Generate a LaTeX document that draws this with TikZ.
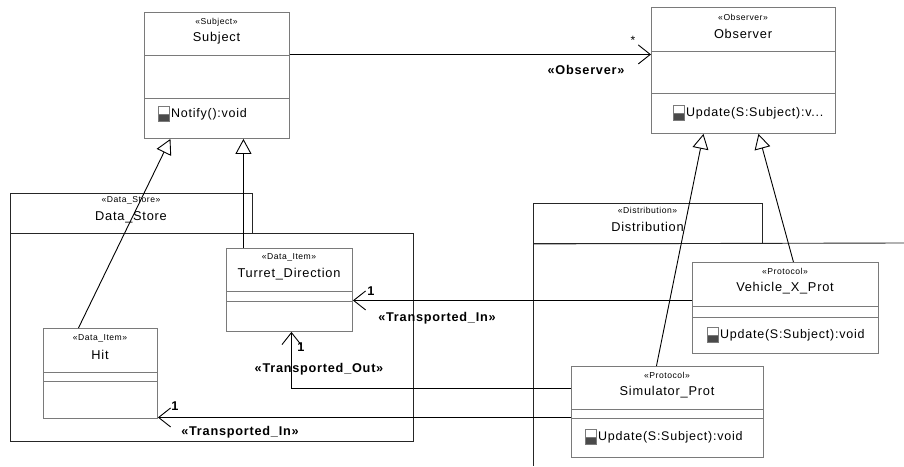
\documentclass[tikz,border=0pt]{standalone}
\usepackage{fontspec}
\setmainfont{Liberation Sans}
\newfontfamily\umlfont[LetterSpace=6]{Liberation Sans}
\usetikzlibrary{arrows.meta}
\definecolor{boxgray}{HTML}{7A7A7A}
\definecolor{icondark}{HTML}{4A4A4A}
\tikzset{
  cls/.style={draw=boxgray, line width=0.9pt, fill=white, rectangle, inner sep=0pt, anchor=north west},
  pkg/.style={draw=black!85, line width=0.9pt, rectangle, inner sep=0pt, anchor=north west},
  divider/.style={draw=boxgray, line width=0.9pt},
  stereo/.style={inner sep=0pt, font=\umlfont\fontsize{8.6}{10}\selectfont},
  cname/.style={inner sep=0pt, font=\umlfont\fontsize{12.8}{14}\selectfont},
  optext/.style={inner sep=0pt, anchor=west, font=\umlfont\fontsize{12.5}{14}\selectfont},
  lbl/.style={inner sep=0pt, font=\umlfont\bfseries\fontsize{12.7}{14}\selectfont},
  assoc/.style={draw=black, line width=0.9pt, -{Straight Barb[length=12pt,width=19pt,line width=0.9pt]}},
  gen/.style={draw=black, line width=0.9pt, -{Triangle[open,length=15pt,width=16pt,line width=0.9pt,fill=white]}},
  opicon/.pic={\draw[boxgray, line width=0.7pt, fill=white] (0,-7.5) rectangle (11,0);
               \filldraw[draw=boxgray, line width=0.7pt, fill=icondark] (0,0) rectangle (11,7.5);}
}
\begin{document}
\begin{tikzpicture}[x=1pt,y=-1pt]
\useasboundingbox[fill=white] (0,0) rectangle (904,466);
% packages
\node[pkg, minimum width=242pt, minimum height=40pt] (dsTab) at (10,193) {};
\node[pkg, minimum width=403pt, minimum height=208pt] (dsBody) at (10,233) {};
\node[stereo] (dsS) at (131,200) {«Data\_Store»};
\node[cname] (dsN) at (131,217) {Data\_Store};
\node[pkg, minimum width=229pt, minimum height=40pt] (diTab) at (533,203) {};
\draw[draw=black!85, line width=0.9pt] (diTab.south west) -- (904,243);
\draw[draw=black!85, line width=0.9pt] (diTab.south west) -- (533,466);
\node[stereo] (diS) at (647.5,210) {«Distribution»};
\node[cname] (diN) at (647.5,227) {Distribution};
% Subject
\node[cls, minimum width=145pt, minimum height=126pt] (subject) at (144,12) {};
\draw[divider] (144,55) -- (289,55);
\draw[divider] (144,98) -- (289,98);
\node[stereo] (subjectS) at (216.5,22) {«Subject»};
\node[cname] (subjectN) at (216.5,38.5) {Subject};
\pic at (158,114) {opicon};
\node[optext] (subjectOp) at (171,114) {Notify():void};
% Observer
\node[cls, minimum width=184pt, minimum height=126pt] (observer) at (651,7) {};
\draw[divider] (651,51) -- (835,51);
\draw[divider] (651,93) -- (835,93);
\node[stereo] (observerS) at (743,17) {«Observer»};
\node[cname] (observerN) at (743,33.5) {Observer};
\pic at (673,113) {opicon};
\node[optext] (observerOp) at (686,113) {Update(S:Subject):v...};
% Turret_Direction
\node[cls, minimum width=126pt, minimum height=83pt] (turret) at (226,248) {};
\draw[divider] (226,291) -- (352,291);
\draw[divider] (226,301) -- (352,301);
\node[stereo] (turretS) at (289,257) {«Data\_Item»};
\node[cname] (turretN) at (289,274) {Turret\_Direction};
% Hit
\node[cls, minimum width=114pt, minimum height=90pt] (hit) at (43,328) {};
\draw[divider] (43,372) -- (157,372);
\draw[divider] (43,381) -- (157,381);
\node[stereo] (hitS) at (100,338) {«Data\_Item»};
\node[cname] (hitN) at (100,355) {Hit};
% Vehicle_X_Prot
\node[cls, minimum width=186pt, minimum height=91pt] (vehicle) at (692,262) {};
\draw[divider] (692,306) -- (878,306);
\draw[divider] (692,317) -- (878,317);
\node[stereo] (vehicleS) at (785,271) {«Protocol»};
\node[cname] (vehicleN) at (785,288) {Vehicle\_X\_Prot};
\pic at (707,335) {opicon};
\node[optext] (vehicleOp) at (720,335) {Update(S:Subject):void};
% Simulator_Prot
\node[cls, minimum width=192pt, minimum height=91pt] (sim) at (571,366) {};
\draw[divider] (571,409) -- (763,409);
\draw[divider] (571,418) -- (763,418);
\node[stereo] (simS) at (667,375) {«Protocol»};
\node[cname] (simN) at (667,392) {Simulator\_Prot};
\pic at (585,437) {opicon};
\node[optext] (simOp) at (598,437) {Update(S:Subject):void};
% association Subject -> Observer
\draw[assoc] ([yshift=21pt]subject.east) -- ([yshift=21pt]subject.east -| observer.west);
\node[inner sep=0pt, font=\fontsize{12}{14}\selectfont] (star) at (633,40) {*};
\node[lbl] (obsLbl) at (586,70) {«Observer»};
% generalizations
\draw[gen] ([xshift=-22pt]hit.north) -- ([xshift=-46.5pt]subject.south);
\draw[gen] ([xshift=-46pt]turret.north) -- ([xshift=-46pt]turret.north |- subject.south);
\draw[gen] ([xshift=-11pt]sim.north) -- ([xshift=-40pt]observer.south);
\draw[gen] ([xshift=8pt]vehicle.north) -- ([xshift=15pt]observer.south);
% transports
\draw[assoc] ([yshift=7.5pt]vehicle.west) -- ([yshift=7.5pt]vehicle.west -| turret.east);
\node[lbl] (m1) at (371,291) {1};
\node[lbl] (t1) at (437,318) {«Transported\_In»};
\draw[assoc] ([yshift=23.5pt]sim.west) -| ([xshift=2pt]turret.south);
\node[lbl] (m2) at (301,347) {1};
\node[lbl] (t2) at (319,369) {«Transported\_Out»};
\draw[assoc] ([yshift=-5.5pt]sim.west) -- ([yshift=-5.5pt]sim.west -| hit.east);
\node[lbl] (m3) at (175,406) {1};
\node[lbl] (t3) at (240,432) {«Transported\_In»};
\end{tikzpicture}
\end{document}
